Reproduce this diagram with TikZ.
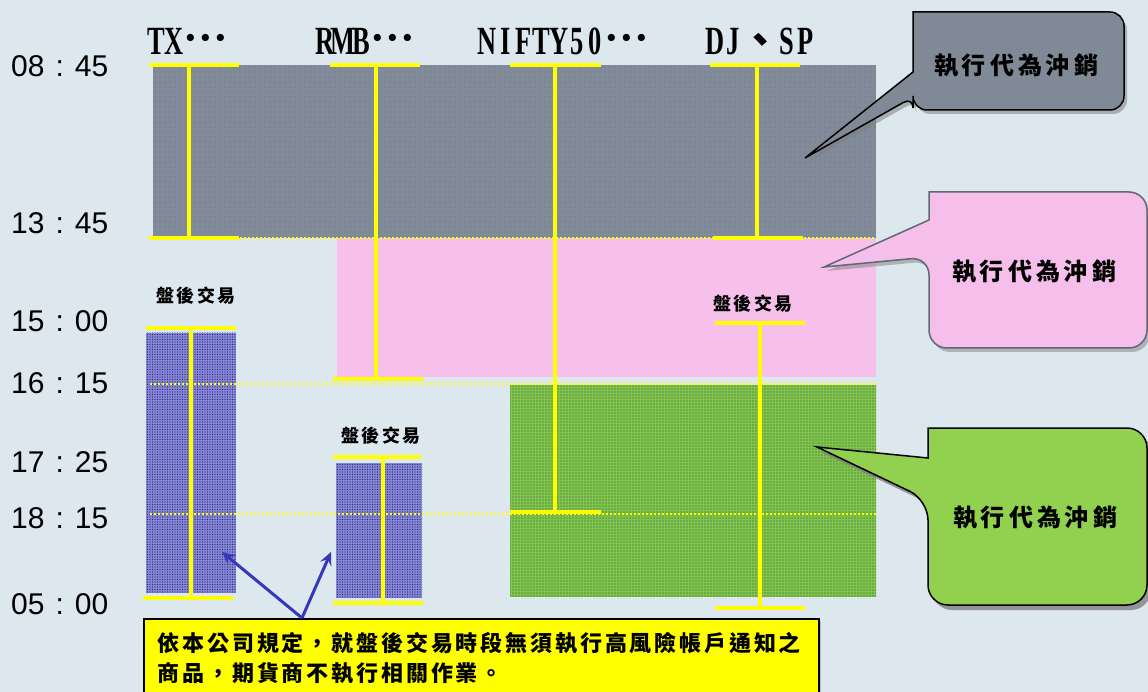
\documentclass[tikz,border=0pt]{standalone}
\usepackage{graphicx}
\usepackage{fontspec}
\setmainfont{Liberation Sans}
\newfontfamily\cjk{Noto Sans CJK TC}
\newfontfamily\hdrf{Liberation Serif}
\usetikzlibrary{patterns.meta,shadows,arrows.meta}
\definecolor{bgc}{RGB}{220,231,238}
\definecolor{grayfill}{RGB}{130,139,154}
\definecolor{graydot}{RGB}{70,75,85}
\definecolor{pinkfill}{RGB}{246,192,234}
\definecolor{greenfill}{RGB}{128,196,78}
\definecolor{greendot}{RGB}{50,95,35}
\definecolor{purplefill}{RGB}{135,135,218}
\definecolor{purpledot}{RGB}{35,35,95}
\definecolor{ybarc}{RGB}{255,255,0}
\definecolor{arrowblue}{RGB}{55,55,185}
\definecolor{callgray}{RGB}{128,137,150}
\definecolor{callpink}{RGB}{246,190,234}
\definecolor{callgreen}{RGB}{146,208,80}
\definecolor{pinkedge}{RGB}{95,105,115}
\makeatletter
\newlength\cgap
\def\spcg#1#2{\cgap=#1\relax\spc@loop#2\@nil\unskip}
\def\spc@loop#1{\ifx#1\@nil\else#1\hskip\cgap\expandafter\spc@loop\fi}
\makeatother
\newcommand\hch[1]{\makebox[18pt]{\scalebox{0.66}[1]{#1}}}
\newcommand\hdot{\scalebox{1.1}{\textperiodcentered}}
\newcommand\hell{\makebox[36pt][l]{\raisebox{2.5pt}{\hdot\hspace{0.5pt}\hdot\hspace{0.5pt}\hdot}}}
\newcommand\tm[2]{#1\hspace{11pt}:\hspace{11pt}#2}
\begin{document}
\begin{tikzpicture}[x=1pt,y=-1pt,
  hdr/.style={anchor=base west, inner sep=0pt, font=\hdrf\bfseries\fontsize{40}{40}\selectfont},
  timelbl/.style={anchor=west, inner sep=0pt, font=\fontsize{30}{30}\selectfont},
  ahlbl/.style={inner sep=0pt, font=\cjk\bfseries\fontsize{18}{18}\selectfont},
  calltxt/.style={inner sep=0pt, font=\cjk\bfseries\fontsize{24}{24}\selectfont},
  ibar/.style={draw=ybarc, line width=3.5pt},
  ydot/.style={draw=ybarc, line width=2pt, dash pattern=on 2pt off 2pt},
  callout/.style={line width=1.5pt},
  blarrow/.style={draw=arrowblue, line width=3pt, -{Stealth[length=13pt,width=12pt,inset=5pt]}},
  notebox/.style={draw=black, line width=1.5pt, fill=ybarc, anchor=north west, inner xsep=14pt, inner ysep=0pt,
     minimum width=675pt, minimum height=78pt, text width=647pt, align=left,
     font=\cjk\bfseries\fontsize{22}{30}\selectfont,
     drop shadow={shadow xshift=2pt, shadow yshift=-2pt, opacity=0.4}}
]
\useasboundingbox (0,0) rectangle (1148,692);
\clip (0,0) rectangle (1148,692);
\fill[bgc] (0,0) rectangle (1148,692);

% time regions
\fill[grayfill] (153,65) rectangle (876,238);
\fill[pattern={Dots[distance=5pt,radius=0.45pt]}, pattern color=graydot] (153,65) rectangle (876,238);
\fill[pinkfill] (337,238) rectangle (876,377);
\fill[greenfill] (510,385) rectangle (876,597);
\fill[pattern={Dots[distance=3pt,radius=0.7pt]}, pattern color=greendot] (510,385) rectangle (876,597);
\fill[purplefill] (146,333) rectangle (236,593);
\fill[pattern={Dots[distance=2.5pt,radius=0.7pt]}, pattern color=purpledot] (146,333) rectangle (236,593);
\fill[purplefill] (336,463) rectangle (422,598);
\fill[pattern={Dots[distance=2.5pt,radius=0.7pt]}, pattern color=purpledot] (336,463) rectangle (422,598);

% dotted guide lines
\draw[ydot] (240,238) -- (876,238);
\draw[ydot] (150,384) -- (876,384);
\draw[ydot] (150,514) -- (876,514);

% I-bars
\draw[ibar] (149,65) -- (239,65) (189,65) -- (189,238) (149,238) -- (239,238);
\draw[ibar] (330,65) -- (420,65) (376,65) -- (376,379) (333,379) -- (423,379);
\draw[ibar] (510,65) -- (601,65) (555,65) -- (555,512) (510,512) -- (601,512);
\draw[ibar] (710,65) -- (800,65) (757,65) -- (757,238) (713,238) -- (803,238);
\draw[ibar] (715,323) -- (805,323) (760,323) -- (760,608) (715,608) -- (805,608);
\draw[ibar] (146,328) -- (236,328) (191,328) -- (191,598) (143,598) -- (233,598);
\draw[ibar] (333,457) -- (421,457) (383,457) -- (383,603) (333,603) -- (423,603);

% time labels
\node[timelbl] (t1) at (11,66) {\tm{08}{45}};
\node[timelbl] (t2) at (11,223) {\tm{13}{45}};
\node[timelbl] (t3) at (11,321) {\tm{15}{00}};
\node[timelbl] (t4) at (11,383) {\tm{16}{15}};
\node[timelbl] (t5) at (11,462) {\tm{17}{25}};
\node[timelbl] (t6) at (11,518) {\tm{18}{15}};
\node[timelbl] (t7) at (11,604) {\tm{05}{00}};

% headers
\node[hdr] (h1) at (147,55) {\hch{T}\hch{X}\hell};
\node[hdr] (h2) at (316,55) {\hch{R}\hch{M}\hch{B}\hell};
\node[hdr] (h3) at (478,55) {\hch{N}\hch{I}\hch{F}\hch{T}\hch{Y}\hch{5}\hch{0}\hell};
\node[hdr] (h4) at (706,55) {\hch{D}\hch{J}\makebox[36pt]{\cjk 、}\hch{S}\hch{P}};

% after-hours labels
\node[ahlbl] (a1) at (196,296) {\spcg{2.5pt}{盤後交易}};
\node[ahlbl] (a2) at (381,436) {\spcg{2.5pt}{盤後交易}};
\node[ahlbl] (a3) at (753,304) {\spcg{2.5pt}{盤後交易}};

% callouts
\draw[callout, fill=callgray, draw=black, drop shadow={shadow xshift=3pt, shadow yshift=-4pt, opacity=0.55}]
  (805,158) -- (913,72) -- (913,12) [rounded corners=14pt] -- (1124,12) -- (1124,110) -- (913,110) [rounded corners=11pt] -- (913,97) [sharp corners] -- cycle;
\node[calltxt] (c1) at (1016,66) {\spcg{4pt}{執行代為沖銷}};

\draw[callout, fill=callpink, draw=pinkedge, drop shadow={shadow xshift=3pt, shadow yshift=-4pt, opacity=0.5}]
  (824,267) -- (929,220) -- (929,192) [rounded corners=18pt] -- (1147,192) -- (1147,348) -- (929,348) -- (929,257) [sharp corners] -- cycle;
\node[calltxt] (c2) at (1034,272) {\spcg{4pt}{執行代為沖銷}};

\draw[callout, fill=callgreen, draw=black, drop shadow={shadow xshift=4pt, shadow yshift=-5pt, opacity=0.8}]
  (817,447) -- (928,458) -- (928,428) [rounded corners=20pt] -- (1147,428) -- (1147,605) -- (928,605) -- (928,500) [sharp corners] -- cycle;
\node[calltxt] (c3) at (1035,518) {\spcg{4pt}{執行代為沖銷}};

% note
\node[notebox] (note) at (143,618) {\spcg{2.85pt}{依本公司規定，就盤後交易時段無須執行高風險帳戶通知之}\\\spcg{2.85pt}{商品，期貨商不執行相關作業。}};
\coordinate (src) at (302,618);
\coordinate (tipa) at (222,552);
\coordinate (tipb) at (331,552);
\draw[blarrow] (src) -- (tipa);
\draw[blarrow] (src) -- (tipb);
\end{tikzpicture}
\end{document}
